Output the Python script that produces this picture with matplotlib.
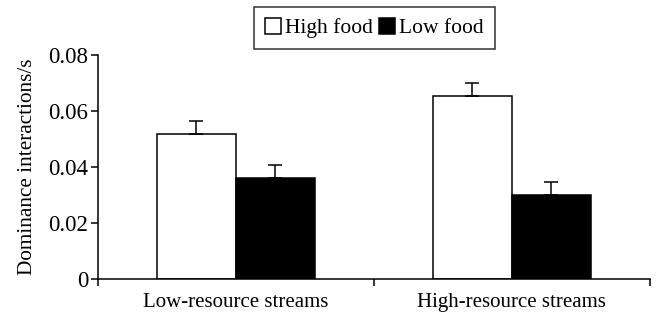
import matplotlib
matplotlib.use("Agg")
import matplotlib.pyplot as plt
import numpy as np

plt.rcParams["font.family"] = ["Liberation Serif", "DejaVu Serif"]

categories = ["Low-resource streams", "High-resource streams"]
high_food = [0.052, 0.0655]
high_err = [0.0045, 0.0047]
low_food = [0.036, 0.030]
low_err = [0.0047, 0.0046]

fig = plt.figure(figsize=(6.57, 3.15), dpi=100)
ax = fig.add_axes([0.149, 0.114, 0.840, 0.711])

x = np.arange(len(categories))
w = 0.286
lw = 1.1

ax.bar(x - w / 2, high_food, w, color="white", edgecolor="black", linewidth=lw,
       yerr=[np.zeros(2), high_err], capsize=5,
       error_kw=dict(elinewidth=lw, capthick=lw, ecolor="black"), label="High food")
ax.bar(x + w / 2, low_food, w, color="black", edgecolor="black", linewidth=lw,
       yerr=[np.zeros(2), low_err], capsize=5,
       error_kw=dict(elinewidth=lw, capthick=lw, ecolor="black"), label="Low food")

ax.set_xlim(-0.5, 1.5)
ax.set_ylim(0, 0.08)
ax.set_yticks([0, 0.02, 0.04, 0.06, 0.08])
ax.set_yticklabels(["0", "0.02", "0.04", "0.06", "0.08"])

# category labels between the boundary ticks
ax.set_xticks([-0.5, 0.5, 1.5])
ax.set_xticklabels([])
ax.set_xticks(x, minor=True)
ax.set_xticklabels(categories, minor=True)
ax.tick_params(axis="x", which="minor", length=0, pad=10, labelsize=15)
ax.tick_params(axis="x", which="major", length=5, width=lw, direction="out")
ax.tick_params(axis="y", length=5, width=lw, direction="out", labelsize=16.5, pad=2)

ax.spines["top"].set_visible(False)
ax.spines["right"].set_visible(False)
ax.spines["left"].set_linewidth(lw)
ax.spines["bottom"].set_linewidth(lw)

ax.set_ylabel("Dominance interactions/s", fontsize=15.3, labelpad=8)

leg = ax.legend(loc="lower center", bbox_to_anchor=(0.501, 1.027), ncol=2,
                fontsize=15.5, frameon=True, fancybox=False, edgecolor="black",
                handlelength=0.75, handleheight=0.75, handletextpad=0.2,
                columnspacing=0.25, borderpad=0.5, borderaxespad=0)
leg.get_frame().set_linewidth(lw)

fig.savefig("out.png", dpi=100)
